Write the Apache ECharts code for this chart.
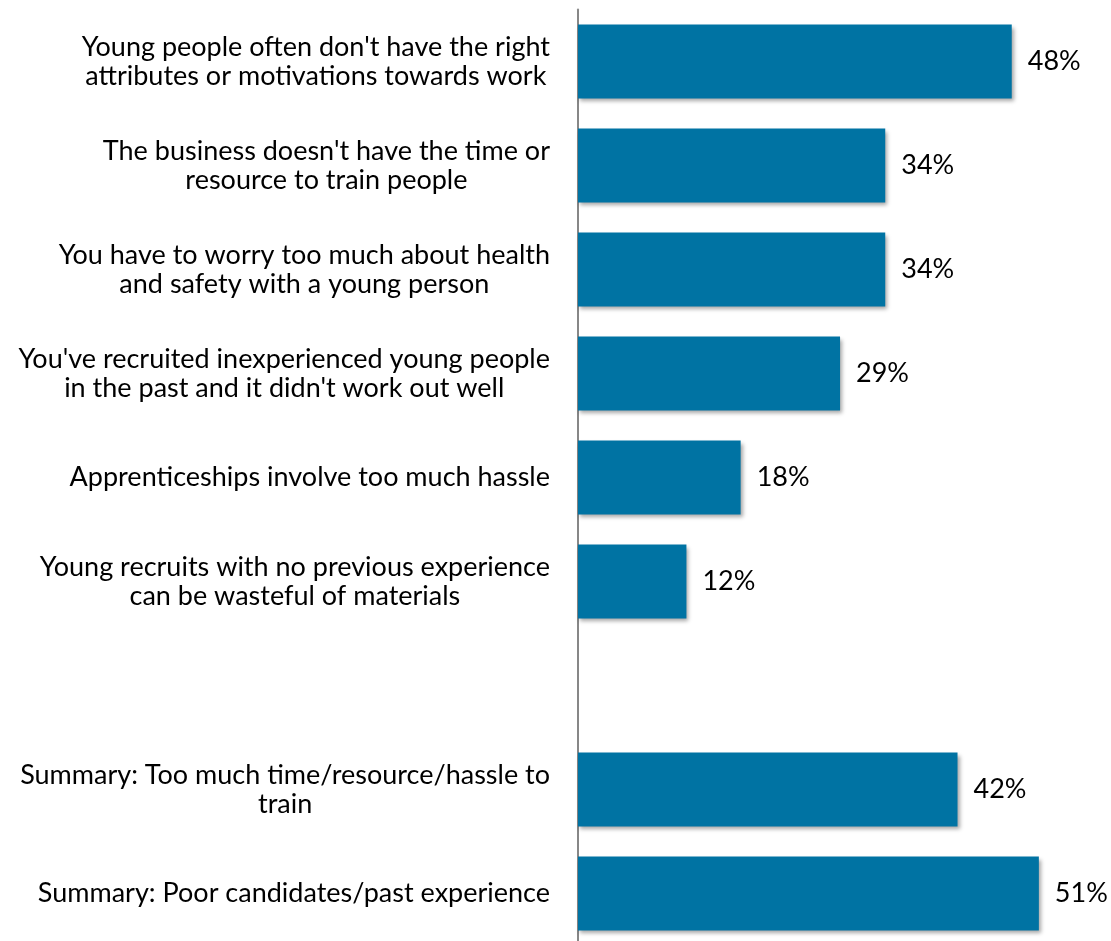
<!DOCTYPE html>
<html>
<head>
<meta charset="utf-8">
<script src="https://cdn.jsdelivr.net/npm/echarts@6/dist/echarts.min.js"></script>
<style>
  html, body { margin: 0; padding: 0; background: #ffffff; }
  #chart { width: 1111px; height: 941px; }
</style>
</head>
<body>
<div id="chart"></div>
<script>
// Reasons given for not recruiting young people (share of respondents, %)
const categories = [
  "Young people often don't have the right\nattributes or motivations towards work",
  "The business doesn't have the time or\nresource to train people",
  "You have to worry too much about health\nand safety with a young person",
  "You've recruited inexperienced young people\nin the past and it didn't work out well",
  "Apprenticeships involve too much hassle",
  "Young recruits with no previous experience\ncan be wasteful of materials",
  "",
  "Summary: Too much time/resource/hassle to\ntrain",
  "Summary: Poor candidates/past experience"
];
const values = [48, 34, 34, 29, 18, 12, null, 42, 51];

const FONT = 'Lato, "Open Sans", sans-serif';
const FONT_SIZE = 27;

const chart = echarts.init(document.getElementById('chart'), null, { renderer: 'canvas' });
chart.setOption({
  animation: false,
  backgroundColor: '#ffffff',
  grid: {
    left: 578, width: 497, top: 9.5, height: 936,
    containLabel: false,
    outerBoundsMode: 'none'
  },
  xAxis: {
    type: 'value',
    min: 0,
    max: 55,
    show: false
  },
  yAxis: {
    type: 'category',
    inverse: true,
    data: categories,
    axisLine: { show: true, lineStyle: { color: '#878787', width: 2 } },
    axisTick: { show: false },
    axisLabel: {
      margin: 28,
      color: '#000000',
      fontFamily: FONT,
      fontSize: FONT_SIZE,
      lineHeight: 29,
      formatter: function (v) { return v ? '{c|' + v + '}' : ''; },
      rich: {
        c: { align: 'center', fontFamily: FONT, fontSize: FONT_SIZE, lineHeight: 29, color: '#000000' }
      }
    },
    splitLine: { show: false }
  },
  series: [{
    type: 'bar',
    data: values,
    barCategoryGap: '29%',
    itemStyle: {
      color: '#0073A3',
      shadowColor: 'rgba(0,0,0,0.35)',
      shadowBlur: 4,
      shadowOffsetX: 2,
      shadowOffsetY: 3
    },
    label: {
      show: true,
      position: 'right',
      distance: 16,
      color: '#000000',
      fontFamily: FONT,
      fontSize: FONT_SIZE,
      formatter: function (p) { return p.value + '%'; }
    }
  }]
});
</script>
</body>
</html>
